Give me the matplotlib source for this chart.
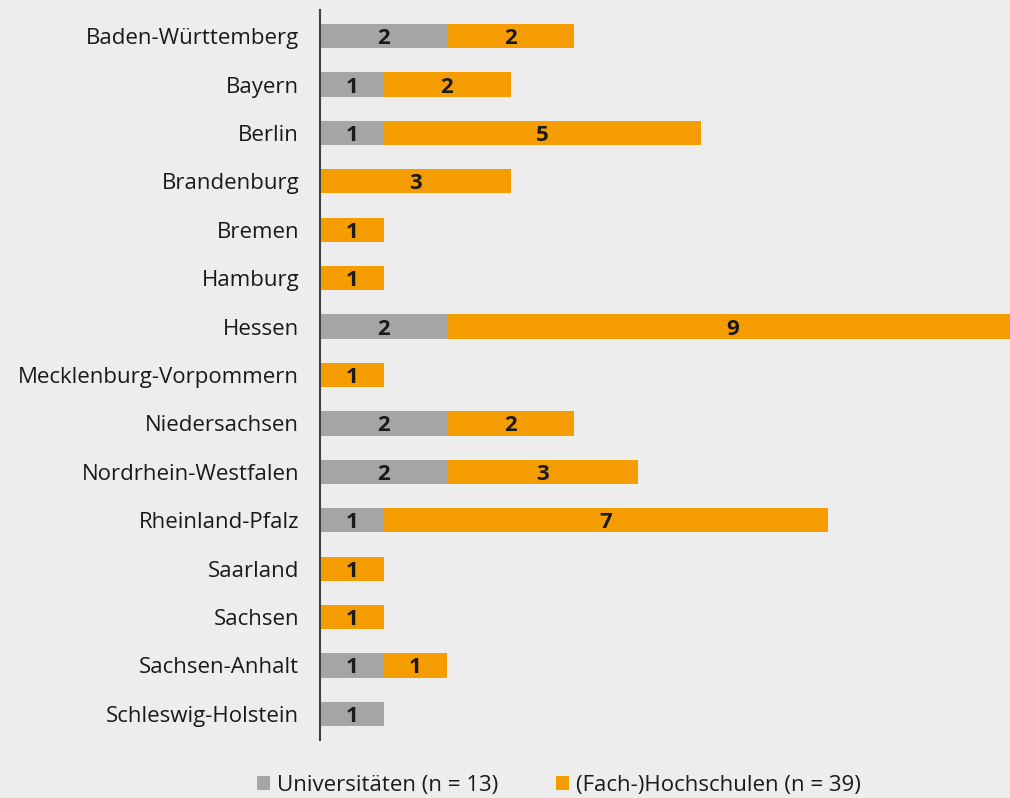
import matplotlib
matplotlib.use("Agg")
import matplotlib.pyplot as plt
import numpy as np

plt.rcParams['font.family'] = ['Open Sans', 'DejaVu Sans']

laender = ['Baden-Württemberg', 'Bayern', 'Berlin', 'Brandenburg', 'Bremen',
           'Hamburg', 'Hessen', 'Mecklenburg-Vorpommern', 'Niedersachsen',
           'Nordrhein-Westfalen', 'Rheinland-Pfalz', 'Saarland', 'Sachsen',
           'Sachsen-Anhalt', 'Schleswig-Holstein']
universitaeten = [2, 1, 1, 0, 0, 0, 2, 0, 2, 2, 1, 0, 0, 1, 1]
hochschulen = [2, 2, 5, 3, 1, 1, 9, 1, 2, 3, 7, 1, 1, 1, 0]

grau = '#a5a5a5'
orange = '#f59c00'
bg = '#ededed'

fig = plt.figure(figsize=(10.10, 7.98), dpi=100, facecolor=bg)
ax = fig.add_axes([320 / 1010, 1 - 740 / 798, 1 - 320 / 1010, 730 / 798])
ax.set_facecolor(bg)

y = np.arange(len(laender))
uni = np.array(universitaeten)
hs = np.array(hochschulen)
ax.barh(y, uni, height=0.5, color=grau, label='Universitäten (n = 13)')
ax.barh(y, hs, left=uni, height=0.5, color=orange, label='(Fach-)Hochschulen (n = 39)')

for i in range(len(laender)):
    if uni[i] > 0:
        ax.text(uni[i] / 2, y[i], str(uni[i]), ha='center', va='center_baseline',
                fontsize=16, fontweight='bold', color='#1a1a1a')
    if hs[i] > 0:
        ax.text(uni[i] + hs[i] / 2, y[i], str(hs[i]), ha='center', va='center_baseline',
                fontsize=16, fontweight='bold', color='#1a1a1a')

ax.set_yticks(y)
ax.set_yticklabels(laender, fontsize=16, color='#1a1a1a')
ax.tick_params(axis='y', length=0, pad=15)
ax.set_xticks([])
ax.set_xlim(0, 690 / 63.5)
ax.set_ylim(len(laender) - 0.46, -0.54)
for s in ['top', 'right', 'bottom']:
    ax.spines[s].set_visible(False)
ax.spines['left'].set_color('#404040')
ax.spines['left'].set_linewidth(1.5)

fig.legend(loc='lower center', bbox_to_anchor=(0.553, -0.022), ncol=2, frameon=False,
           fontsize=16, handlelength=0.6, handleheight=0.6, handletextpad=0.3,
           columnspacing=2.6, labelcolor='#1a1a1a')

fig.savefig('out.png', dpi=100, facecolor=bg)
